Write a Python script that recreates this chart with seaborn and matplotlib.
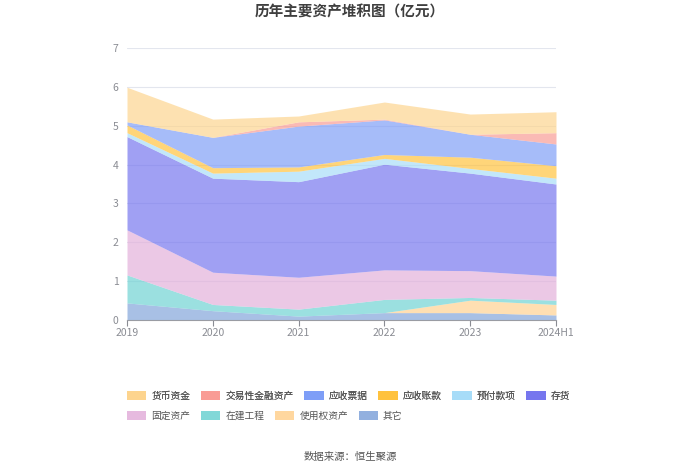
import matplotlib
matplotlib.use("Agg")
import matplotlib.pyplot as plt
import seaborn as sns
from matplotlib.patches import Patch

# data (亿元)
years = ["2019", "2020", "2021", "2022", "2023", "2024H1"]
qita = [0.44, 0.24, 0.10, 0.19, 0.19, 0.13]            # 其它
shiyongquan = [0.00, 0.00, 0.00, 0.00, 0.32, 0.27]     # 使用权资产
zaijian = [0.72, 0.16, 0.18, 0.34, 0.07, 0.11]         # 在建工程
guding = [1.16, 0.83, 0.82, 0.76, 0.69, 0.62]          # 固定资产
cunhuo = [2.40, 2.42, 2.46, 2.72, 2.51, 2.37]          # 存货
yufu = [0.10, 0.13, 0.27, 0.15, 0.12, 0.15]            # 预付款项
yingshou_zk = [0.20, 0.14, 0.11, 0.10, 0.29, 0.32]     # 应收账款
yingshou_pj = [0.08, 0.78, 1.05, 0.89, 0.59, 0.56]     # 应收票据
jiaoyi = [0.00, 0.00, 0.11, 0.02, 0.00, 0.29]          # 交易性金融资产
huobi = [0.89, 0.47, 0.15, 0.44, 0.52, 0.54]           # 货币资金

names = ["货币资金", "交易性金融资产", "应收票据", "应收账款", "预付款项", "存货",
         "固定资产", "在建工程", "使用权资产", "其它"]
colors = {"货币资金": "#FDD48C", "交易性金融资产": "#F99A93", "应收票据": "#7C9CF7",
          "应收账款": "#FFC13A", "预付款项": "#A6DCF8", "存货": "#7373EE",
          "固定资产": "#E2AEDA", "在建工程": "#6CD2D2", "使用权资产": "#FFD18E",
          "其它": "#7FA3DA"}

# bottom to top
stack_order = ["其它", "使用权资产", "在建工程", "固定资产", "存货", "预付款项",
               "应收账款", "应收票据", "交易性金融资产", "货币资金"]
values = {"其它": qita, "使用权资产": shiyongquan, "在建工程": zaijian, "固定资产": guding,
          "存货": cunhuo, "预付款项": yufu, "应收账款": yingshou_zk, "应收票据": yingshou_pj,
          "交易性金融资产": jiaoyi, "货币资金": huobi}

sns.set_theme(style="white")
plt.rcParams['font.family'] = ['Noto Sans CJK SC', 'DejaVu Sans']

fig = plt.figure(figsize=(7, 4.74), dpi=100)
ax = fig.add_axes([127 / 700, 1 - 320 / 474, (556 - 127) / 700, (320 - 48) / 474])

x = list(range(len(years)))
ax.stackplot(x, [values[n] for n in stack_order],
             colors=[colors[n] for n in stack_order], alpha=0.68, linewidth=0)

ax.set_xlim(0, len(years) - 1)
ax.set_ylim(0, 7)
ax.set_yticks(range(0, 8))
ax.set_xticks(x)
ax.set_xticklabels(years)
ax.grid(axis="y", color="#E3E6EE", linewidth=0.8)
ax.set_axisbelow(True)
sns.despine(ax=ax, left=True, top=True, right=True)
ax.spines["bottom"].set_color("#9A9CA3")
ax.spines["bottom"].set_linewidth(0.8)
ax.spines["bottom"].set_zorder(5)
ax.tick_params(axis="x", colors="#8A8C93", labelsize=7.5, length=4, width=0.8,
               direction="out", pad=2, bottom=True)
ax.tick_params(axis="y", colors="#8A8C93", labelsize=7.5, length=0, pad=6)
for lab in ax.get_xticklabels() + ax.get_yticklabels():
    lab.set_color("#8A8C93")

fig.text(0.5, 1 - 12 / 474, "历年主要资产堆积图（亿元）", ha="center", va="center",
         fontsize=10.5, fontweight="bold", color="#3F3F3F")

def legend_row(items, y):
    handles = [Patch(facecolor=colors[n], edgecolor="none", alpha=0.85) for n in items]
    leg = fig.legend(handles, items, loc="center left", bbox_to_anchor=(127 / 700, 1 - y / 474),
                     ncol=len(items), frameon=False, fontsize=7, handlelength=2.0,
                     handleheight=1.0, handletextpad=0.5, columnspacing=1.1,
                     borderaxespad=0, borderpad=0)
    for t in leg.get_texts():
        t.set_color("#555555")
    return leg

leg1 = legend_row(names[:6], 396)
fig.add_artist(leg1)
legend_row(names[6:], 416)

fig.text(0.5, 1 - 457 / 474, "数据来源：恒生聚源", ha="center", va="center",
         fontsize=7.5, color="#555555")

fig.savefig("out.png", dpi=100)
